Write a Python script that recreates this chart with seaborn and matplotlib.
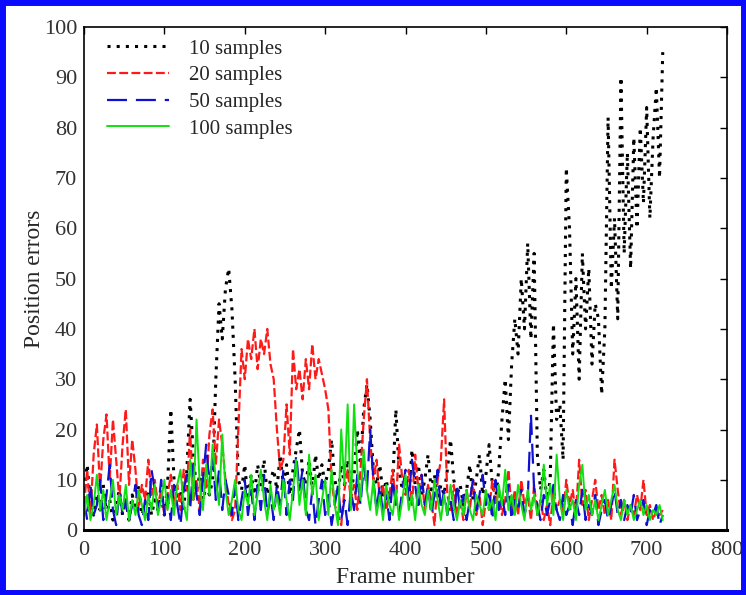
import numpy as np
import pandas as pd
import matplotlib
matplotlib.use("Agg")
import matplotlib.pyplot as plt
import seaborn as sns
from matplotlib.patches import Rectangle

frames = list(range(0, 721, 4))

err_10 = [8,13,5,3,7,4,9,3,6,2,5,8,3,6,2,7,4,9,3,5,8,3,6,4,7,3,9,24,10,6,8,4,12,26,15,8,11,6,9,7,
          10,30,45,38,48,52,44,30,10,8,13,6,11,7,13,9,14,7,10,12,8,15,9,13,7,12,16,20,11,9,
          14,8,15,10,13,9,12,18,10,7,13,9,14,8,11,20,13,24,29,22,12,9,13,7,10,6,9,24,12,8,
          10,6,16,9,13,7,10,15,8,11,6,9,7,12,18,10,7,9,5,8,13,6,10,15,7,11,17,9,6,12,
          22,30,18,33,42,35,50,40,57,38,55,15,8,12,6,10,41,22,25,14,72,60,35,50,30,55,40,52,33,45,
          42,27,40,82,48,62,42,90,55,75,52,78,60,80,65,84,62,78,88,70,95]

err_20 = [5,12,3,15,21,8,18,23,10,22,14,6,17,24,9,18,12,4,9,6,14,7,10,5,8,3,7,11,5,9,
          4,12,8,20,6,10,4,14,8,19,24,13,22,17,10,5,2,4,20,36,30,38,34,40,32,38,35,40,33,30,
          20,12,14,25,15,36,28,32,26,34,28,37,30,34,31,28,24,10,5,3,1,8,12,6,9,4,12,22,30,18,
          10,14,6,9,4,7,12,5,17,10,7,12,5,15,8,11,4,9,6,1,10,14,26,7,4,9,3,6,2,8,
          4,10,3,7,1,6,4,10,5,8,3,6,12,4,8,3,10,5,7,2,9,3,6,2,5,1,8,4,6,3,
          10,5,8,3,14,5,8,2,6,10,4,7,3,6,2,14,8,3,6,2,5,3,7,4,10,3,5,2,4,3,4]

err_50 = [6,2,9,3,5,10,2,7,13,4,1,8,3,6,2,5,9,3,1,6,2,12,8,4,10,3,7,2,9,5,
          1,8,11,4,13,7,3,10,17,9,15,6,12,4,10,7,3,9,2,6,10,3,8,2,9,4,11,3,7,2,
          9,5,12,3,10,6,15,8,12,4,2,8,1,6,10,3,7,1,5,9,2,6,1,8,4,11,5,13,8,20,
          10,4,9,3,7,2,10,5,3,8,12,6,14,9,4,11,5,9,3,7,12,4,8,3,6,2,9,4,7,2,
          6,10,3,7,11,5,8,2,10,4,7,3,9,2,6,4,8,3,6,23,8,5,2,7,3,6,9,4,2,7,
          3,5,1,6,3,8,2,5,3,7,1,4,6,2,5,8,3,6,2,5,3,7,2,4,6,1,4,3,5,1,3]

err_100 = [3,7,2,5,11,4,8,2,6,10,3,7,4,9,2,6,3,8,5,2,7,4,9,3,6,10,4,8,3,9,
           12,5,2,14,6,22,9,4,13,7,17,10,5,19,8,3,6,10,4,2,8,5,11,3,7,12,6,2,9,4,
           7,3,10,6,2,8,14,5,10,3,15,7,11,2,6,10,3,12,5,1,20,9,25,4,25,12,6,16,8,4,
           10,3,7,2,9,5,3,8,2,6,11,4,7,2,9,5,3,8,4,10,6,2,7,3,9,5,2,6,3,8,
           4,2,7,5,3,8,4,6,2,9,5,12,4,7,3,9,5,2,8,4,7,3,6,13,5,9,3,15,6,2,
           8,4,6,2,9,13,4,7,3,6,2,5,8,3,6,9,4,2,6,3,5,2,4,6,3,5,2,4,3,5,2]

labels = ["10 samples", "20 samples", "50 samples", "100 samples"]
series = [err_10, err_20, err_50, err_100]

df = pd.concat([pd.DataFrame({"Frame": frames, "Error": s, "Series": l})
                for s, l in zip(series, labels)], ignore_index=True)

sns.set_theme(style="white")
plt.rcParams["font.family"] = ["Liberation Serif", "DejaVu Serif"]

fig = plt.figure(figsize=(7.46, 5.95), dpi=100)
ax = fig.add_axes([0.1126, 0.109, 0.862, 0.8456])

styles = {
    "10 samples": dict(color="black", linestyle=(0, (1, 2.0)), linewidth=2.2),
    "20 samples": dict(color="#ff1a1a", linestyle=(0, (4, 1.5)), linewidth=1.6),
    "50 samples": dict(color="#1010d0", linestyle=(0, (9, 4)), linewidth=1.6),
    "100 samples": dict(color="#10e010", linestyle="-", linewidth=1.4),
}
for l in labels:
    sub = df[df["Series"] == l]
    sns.lineplot(data=sub, x="Frame", y="Error", ax=ax, label=l,
                 estimator=None, sort=False, **styles[l])

ax.set_xlim(0, 800)
ax.set_ylim(0, 100)
ax.set_xticks(range(0, 801, 100))
ax.set_yticks(range(0, 101, 10))
ax.tick_params(axis="both", direction="in", length=5, width=1, labelsize=16,
               top=True, right=True, colors="black")
ax.tick_params(axis="x", pad=8)
ax.tick_params(axis="y", pad=5)
for lab in ax.get_xticklabels() + ax.get_yticklabels():
    lab.set_color("#333333")
for s in ax.spines.values():
    s.set_color("black")
    s.set_linewidth(1.2)
ax.spines["bottom"].set_linewidth(2.2)
ax.set_xlabel("Frame number", fontsize=17, labelpad=5)
ax.set_ylabel("Position errors", fontsize=17, labelpad=-1)

leg = ax.legend(loc="upper left", bbox_to_anchor=(0.035, 0.976), frameon=False,
                fontsize=15, handlelength=3.0, handletextpad=0.95,
                labelspacing=0.34, borderaxespad=0.0, borderpad=0.0)

fig.patches.append(Rectangle((0.003, 0.004), 0.994, 0.992, transform=fig.transFigure,
                             fill=False, edgecolor="#0a0aff", linewidth=5))

fig.savefig("out.png", dpi=100)
